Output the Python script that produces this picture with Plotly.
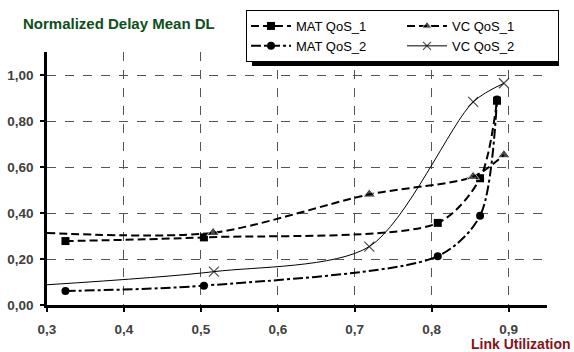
import plotly.graph_objects as go

# ---- data ----
mat1_x = [0.324, 0.504, 0.808, 0.863, 0.885]
mat1_y = [0.278, 0.294, 0.357, 0.551, 0.888]

mat2_x = [0.324, 0.504, 0.808, 0.863, 0.885]
mat2_y = [0.061, 0.084, 0.212, 0.388, 0.894]

vc1_x = [0.300, 0.516, 0.719, 0.854, 0.894]
vc1_y = [0.313, 0.314, 0.481, 0.558, 0.652]
vc1_marker = [0, 11, 11, 11, 11]   # first point of the curve carries no marker

vc2_x = [0.300, 0.517, 0.719, 0.854, 0.894]
vc2_y = [0.088, 0.145, 0.254, 0.883, 0.964]
vc2_marker = [0, 10, 10, 10, 10]

x_ticks = [0.3, 0.4, 0.5, 0.6, 0.7, 0.8, 0.9]
y_ticks = [0.0, 0.2, 0.4, 0.6, 0.8, 1.0]

FONT = "Liberation Sans, Arial, sans-serif"

fig = go.Figure()
fig.add_trace(go.Scatter(
    x=mat1_x, y=mat1_y, name="MAT QoS_1", mode="lines+markers", legendgroup="mat",
    line=dict(color="black", width=2, dash="8px,4px", shape="spline", smoothing=0.8),
    marker=dict(symbol="square", size=8, color="black")))
fig.add_trace(go.Scatter(
    x=vc1_x, y=vc1_y, name="VC QoS_1", mode="lines+markers", legendgroup="vc",
    line=dict(color="black", width=2, dash="8px,4px", shape="spline", smoothing=0.8),
    marker=dict(symbol="triangle-up", size=vc1_marker, color="black")))
fig.add_trace(go.Scatter(
    x=mat2_x, y=mat2_y, name="MAT QoS_2", mode="lines+markers", legendgroup="mat",
    line=dict(color="black", width=2, dash="10px,3px,3px,3px", shape="spline", smoothing=0.8),
    marker=dict(symbol="circle", size=8, color="black")))
fig.add_trace(go.Scatter(
    x=vc2_x, y=vc2_y, name="VC QoS_2", mode="lines+markers", legendgroup="vc",
    line=dict(color="black", width=1, shape="spline", smoothing=0.8),
    marker=dict(symbol="x-thin-open", size=vc2_marker, color="black",
                line=dict(color="black", width=1.2))))

L, R, T, B = 47, 27, 52, 47
W, H = 574, 352
pw, ph = W - L - R, H - T - B

def px(xp):
    return (xp - L) / pw

def py(yp):
    return (H - B - yp) / ph

fig.update_layout(
    width=W, height=H,
    margin=dict(l=L, r=R, t=T, b=B, pad=0, autoexpand=False),
    paper_bgcolor="white", plot_bgcolor="white",
    separators=",.",
    font=dict(family=FONT, color="black"),
    showlegend=True,
    legend=dict(
        orientation="h", x=px(246), y=py(10), xanchor="left", yanchor="top",
        bgcolor="white", bordercolor="black", borderwidth=1,
        font=dict(family=FONT, size=13, color="black"),
        entrywidth=101, entrywidthmode="pixels", itemwidth=40,
        tracegroupgap=0, traceorder="grouped",
    ),
    xaxis=dict(
        range=[0.3, 0.95], tickvals=x_ticks, tickformat=".1f",
        showline=True, linecolor="black", linewidth=2.5,
        ticks="outside", ticklen=4, tickwidth=2, tickcolor="black",
        showgrid=True, gridcolor="#555555", gridwidth=1, griddash="dash",
        zeroline=False, ticklabelstandoff=6,
        tickfont=dict(family=FONT, size=13.5, color="#404040", weight="bold"),
    ),
    yaxis=dict(
        range=[0, 1.1], tickvals=y_ticks, tickformat=".2f",
        showline=True, linecolor="black", linewidth=2.5,
        ticks="outside", ticklen=4, tickwidth=2, tickcolor="black",
        showgrid=True, gridcolor="#555555", gridwidth=1, griddash="dash",
        zeroline=False, ticklabelstandoff=4,
        tickfont=dict(family=FONT, size=13.5, color="#404040", weight="bold"),
    ),
    annotations=[
        dict(text="Normalized Delay Mean DL", xref="paper", yref="paper",
             x=px(21), y=py(24), xanchor="left", yanchor="middle", showarrow=False,
             font=dict(family=FONT, size=15, color="#0d5019", weight="bold")),
        dict(text="Link Utilization", xref="paper", yref="paper",
             x=px(573), y=py(344), xanchor="right", yanchor="middle", showarrow=False,
             font=dict(family=FONT, size=14, color="#8b1016", weight="bold")),
    ],
    shapes=[
        dict(type="rect", xref="paper", yref="paper",
             x0=px(252), x1=px(559), y0=py(14), y1=py(66),
             fillcolor="black", line=dict(width=0), layer="above"),
    ],
)

fig.write_html(
    "out.html",
    config={"displayModeBar": False},
    post_script="document.body.style.margin='0';document.body.style.overflow='hidden';",
)
